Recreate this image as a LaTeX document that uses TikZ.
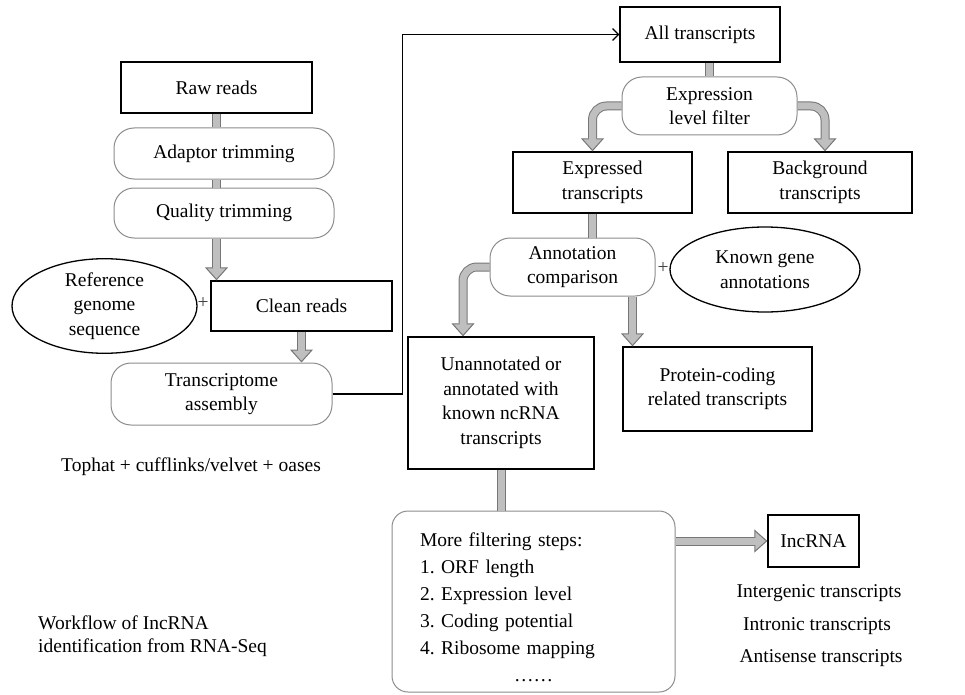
\documentclass[tikz,border=0pt]{standalone}
\usepackage{fontspec}
\setmainfont{Liberation Serif}
\usetikzlibrary{shapes.geometric,arrows.meta,calc}
\frenchspacing

\definecolor{barfill}{RGB}{191,191,191}
\definecolor{baredge}{RGB}{118,118,118}
\definecolor{softline}{RGB}{140,140,140}

\tikzset{
  databox/.style={draw=black, line width=1.3pt, align=center},
  procbox/.style={draw=softline, line width=1pt, rounded corners=20pt, align=center},
  refoval/.style={draw=black, line width=1.3pt, ellipse, align=center},
  fatout/.style={draw=baredge, line width=9pt, rounded corners=14pt},
  fatin/.style={draw=barfill, line width=7pt, rounded corners=14pt}
}
% gray block connectors, drawn twice for the outline
\newcommand{\fatbar}[1]{\draw[fatout] #1; \draw[fatin] #1;}
\newcommand{\fatarrow}[1]{%
  \draw[fatout, -{Triangle[width=23pt, length=13pt, line width=1pt, fill=barfill]}] #1;
  \draw[fatin, shorten >=11pt] #1;}

\begin{document}
\begin{tikzpicture}[x=1pt, y=-1pt, inner sep=0pt, font=\fontsize{19.5}{24.5}\selectfont]
  \useasboundingbox (0,0) rectangle (965,695);

  % read processing
  \node[databox, minimum width=191pt, minimum height=51pt] (raw) at (216.5,87.5) {Raw reads};
  \node[procbox, minimum width=220pt, minimum height=51pt] (adaptor) at (224,153.5) {Adaptor trimming};
  \node[procbox, minimum width=220pt, minimum height=50pt] (quality) at (224,213) {Quality trimming};
  \node[databox, minimum width=181pt, minimum height=50pt] (clean) at (301.5,306) {Clean reads};
  \node[refoval, minimum width=185pt, minimum height=88pt] (genome) at (104.5,306) {Reference\\genome\\sequence};
  \node[text=darkgray] (plusleft) at (203,303) {+};
  \node[procbox, minimum width=221pt, minimum height=62pt] (assembly) at (221.5,394) {Transcriptome\\assembly};
  \node (tools) at (191,467) {Tophat + cufflinks/velvet + oases};

  % transcript classification
  \node[databox, minimum width=160pt, minimum height=55pt] (all) at (700,34.5) {All transcripts};
  \node[procbox, minimum width=175pt, minimum height=58pt] (exprfilter) at (709.5,106) {Expression\\level filter};
  \node[databox, minimum width=179pt, minimum height=61pt] (expressed) at (602.5,182.5) {Expressed\\transcripts};
  \node[databox, minimum width=184pt, minimum height=61pt] (background) at (820,182.5) {Background\\transcripts};
  \node[procbox, minimum width=165pt, minimum height=58pt] (annotcomp) at (572.5,267) {Annotation\\comparison};
  \node[text=darkgray] (plusright) at (663,268) {+};
  \node[refoval, minimum width=190pt, minimum height=85pt] (knowngene) at (765,269.5) {Known gene\\annotations};
  \node[databox, minimum width=186pt, minimum height=132pt] (unannot) at (501,403) {Unannotated or\\annotated with\\known ncRNA\\transcripts};
  \node[databox, minimum width=189pt, minimum height=84pt] (protein) at (717.5,389) {Protein-coding\\related transcripts};
  \node[procbox, rounded corners=16pt, minimum width=283pt, minimum height=181pt,
        text width=227pt, inner xsep=28pt, align=left, font=\fontsize{19.5}{27}\selectfont]
        (morefilter) at (533.5,601.5)
        {\rule{0pt}{26pt}More filtering steps:\\1. ORF length\\2. Expression level\\3. Coding potential\\4. Ribosome mapping\\\makebox[\linewidth]{……}};
  \node[databox, minimum width=91pt, minimum height=52pt] (lncrna) at (813.5,541) {IncRNA};
  \node (intergenic) at (819,593) {Intergenic transcripts};
  \node (intronic) at (817,626) {Intronic transcripts};
  \node (antisense) at (821,658) {Antisense transcripts};
  \node[anchor=west, align=left, font=\fontsize{19.5}{23}\selectfont] (caption) at (38,636) {Workflow of IncRNA\\identification from RNA-Seq};

  % connectors
  \draw[line width=1.2pt, -{Straight Barb[length=6pt, width=12pt]}] (assembly.east) -- ++(70,0) |- (all.west);

  \fatbar{(raw.south) -- (raw.south |- adaptor.north)}
  \fatbar{(raw.south |- adaptor.south) -- (raw.south |- quality.north)}
  \fatarrow{(raw.south |- quality.south) -- (raw.south |- clean.north)}
  \fatarrow{(clean.south) -- (clean.south |- assembly.north)}

  \fatbar{(exprfilter.north |- all.south) -- (exprfilter.north)}
  \fatarrow{(exprfilter.west) -| ($(expressed.north)+(-10,0)$)}
  \fatarrow{(exprfilter.east) -| ($(background.north)+(5,0)$)}
  \coordinate (exbar) at ($(expressed.south)+(-10,0)$);
  \fatbar{(exbar) -- (exbar |- annotcomp.north)}
  \fatarrow{(annotcomp.west) -| ($(unannot.north)+(-38,0)$)}
  \coordinate (protbar) at ($(annotcomp.south)+(60,0)$);
  \fatarrow{(protbar) -- (protbar |- protein.north)}
  \fatbar{(unannot.south) -- (unannot.south |- morefilter.north)}
  \fatarrow{(morefilter.east |- lncrna.west) -- (lncrna.west)}
\end{tikzpicture}
\end{document}
